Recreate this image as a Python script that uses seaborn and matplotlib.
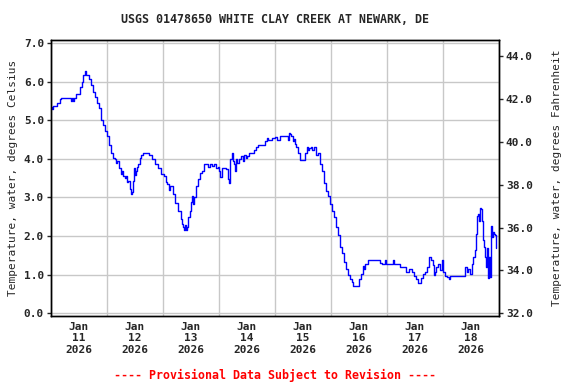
import pandas as pd
import matplotlib
matplotlib.use("Agg")
import matplotlib.pyplot as plt
import matplotlib.dates as mdates
import seaborn as sns

# hours since 2026-01-11 00:00 and water temperature (deg C)
hours = [
    0.0, 0.4, 0.9, 1.7, 2.6, 3.9, 4.3, 8.1, 8.6, 9.0, 9.4, 9.9, 10.7, 12.0,
    12.4, 13.3, 13.7, 14.1, 14.6, 15.0, 15.9, 16.3, 17.1, 18.0, 18.9, 19.7,
    20.6, 21.4, 22.3, 23.1, 24.0, 24.9, 25.7, 26.6, 27.4, 27.9, 28.3, 29.1,
    30.0, 30.4, 30.9, 31.7, 32.1, 32.6, 33.0, 33.9, 34.3, 34.7, 35.1, 35.6,
    36.0, 36.4, 36.9, 37.3, 38.1, 38.6, 39.4, 41.6, 42.0, 43.3, 44.6, 45.9,
    47.1, 48.4, 49.3, 49.7, 50.6, 51.0, 52.3, 53.1, 54.4, 55.7, 56.1, 56.6,
    57.0, 57.4, 57.9, 58.3, 58.7, 59.6, 60.0, 60.4, 60.9, 61.3, 62.1, 63.0,
    63.9, 64.7, 65.6, 66.4, 67.3, 68.1, 69.0, 69.9, 70.7, 71.6, 72.0, 72.4,
    73.3, 75.0, 75.9, 76.3, 76.7, 77.6, 78.0, 78.4, 78.9, 79.3, 79.7, 80.6,
    81.4, 82.3, 82.7, 83.6, 84.0, 84.9, 85.7, 87.0, 87.9, 88.7, 90.9, 91.7,
    92.6, 93.0, 93.9, 94.7, 96.0, 96.9, 98.1, 101.1, 101.6, 102.0, 102.4,
    102.9, 103.7, 104.1, 104.6, 105.0, 105.9, 106.7, 108.4, 108.9, 109.7,
    110.1, 110.6, 111.4, 111.9, 112.7, 113.6, 114.4, 115.3, 116.1, 117.0,
    117.9, 118.7, 119.6, 120.4, 121.3, 122.1, 123.0, 123.9, 124.7, 125.6,
    126.4, 127.3, 128.1, 129.0, 129.4, 131.6, 132.0, 132.9, 133.7, 134.1,
    134.6, 135.9, 136.7, 140.6, 141.0, 141.9, 143.1, 143.6, 146.1, 146.6,
    147.0, 149.1, 149.6, 150.9, 152.1, 153.4, 154.7, 155.6, 156.4, 157.3,
    158.1, 158.6, 159.4, 160.3, 161.1, 162.0, 162.9, 163.7, 164.1, 164.6,
    165.0, 165.9, 166.7, 167.6, 168.0, 168.9, 169.7, 170.6, 171.0, 176.6,
    177.4, 178.3, 178.7, 179.6, 180.4, 180.9, 181.7, 182.1, 182.6, 183.0,
    183.4, 183.9, 184.3, 184.7, 185.1, 185.6, 186.0, 186.4, 186.9, 187.3,
    187.7, 188.1, 188.6, 189.0, 189.4, 189.9, 190.3, 190.7,
]
temp_c = [
    5.35, 5.29, 5.37, 5.37, 5.44, 5.54, 5.58, 5.58, 5.49, 5.58, 5.49, 5.58,
    5.68, 5.68, 5.86, 5.99, 6.17, 6.16, 6.27, 6.16, 6.16, 6.08, 5.91, 5.73,
    5.61, 5.44, 5.31, 5.01, 4.89, 4.71, 4.58, 4.37, 4.15, 4.03, 3.99, 3.89,
    3.94, 3.77, 3.61, 3.69, 3.56, 3.51, 3.56, 3.39, 3.43, 3.22, 3.10, 3.14,
    3.43, 3.77, 3.59, 3.68, 3.79, 3.86, 4.03, 4.09, 4.15, 4.15, 4.09, 3.99,
    3.86, 3.77, 3.60, 3.56, 3.39, 3.35, 3.19, 3.30, 3.09, 2.87, 2.66, 2.45,
    2.32, 2.23, 2.16, 2.29, 2.16, 2.24, 2.49, 2.66, 2.89, 3.04, 2.84, 3.00,
    3.30, 3.47, 3.64, 3.68, 3.86, 3.87, 3.79, 3.87, 3.82, 3.87, 3.77, 3.79,
    3.68, 3.54, 3.77, 3.73, 3.47, 3.37, 3.99, 4.15, 3.94, 3.86, 3.69, 3.99,
    3.90, 3.99, 4.07, 3.94, 4.11, 4.02, 4.07, 4.15, 4.15, 4.24, 4.32, 4.37,
    4.37, 4.47, 4.54, 4.49, 4.50, 4.54, 4.56, 4.49, 4.58, 4.58, 4.49, 4.67,
    4.64, 4.58, 4.45, 4.52, 4.39, 4.32, 4.15, 3.98, 3.98, 4.15, 4.32, 4.24,
    4.28, 4.32, 4.24, 4.32, 4.11, 4.15, 3.86, 3.68, 3.38, 3.17, 3.04, 2.83,
    2.66, 2.49, 2.23, 2.02, 1.72, 1.55, 1.33, 1.16, 0.99, 0.88, 0.80, 0.71,
    0.71, 0.88, 1.03, 1.22, 1.14, 1.27, 1.38, 1.39, 1.39, 1.31, 1.29, 1.39,
    1.29, 1.29, 1.39, 1.29, 1.29, 1.20, 1.19, 1.08, 1.14, 1.08, 0.97, 0.88,
    0.79, 0.79, 0.91, 1.03, 1.08, 1.20, 1.46, 1.38, 1.25, 0.99, 1.08, 1.20,
    1.29, 1.12, 1.38, 1.08, 0.97, 0.93, 0.89, 0.97, 0.97, 1.20, 1.08, 1.16,
    1.03, 1.29, 1.46, 1.63, 2.06, 2.53, 2.57, 2.40, 2.74, 2.70, 2.40, 1.89,
    1.72, 1.46, 1.20, 1.68, 0.91, 1.46, 0.95, 2.27, 1.97, 2.10, 2.06, 2.02,
    1.68,
]
start = "2026-01-11"
end = "2026-01-19"
title = "USGS 01478650 WHITE CLAY CREEK AT NEWARK, DE"
footer = "---- Provisional Data Subject to Revision ----"

df = pd.DataFrame({
    "time": pd.Timestamp(start) + pd.to_timedelta(hours, unit="h"),
    "temp": temp_c,
})

sns.set_style("white")
plt.rcParams["font.family"] = ["DejaVu Sans Mono"]
plt.rcParams["font.weight"] = "bold"
plt.rcParams["font.size"] = 8

fig = plt.figure(figsize=(5.76, 3.84), dpi=100)
ax = fig.add_axes([0.0885, 0.177, 0.7778, 0.72])

sns.lineplot(data=df, x="time", y="temp", ax=ax, color="#0000ff",
             linewidth=1.0, drawstyle="steps-post", estimator=None, sort=False)

ylo, yhi = -0.07, 7.09
ax.set_ylim(ylo, yhi)
ax.set_xlim(pd.Timestamp(start), pd.Timestamp(end))
ax.set_yticks([0, 1, 2, 3, 4, 5, 6, 7])
ax.yaxis.set_major_formatter(plt.FormatStrFormatter("%.1f"))

ax.xaxis.set_major_locator(mdates.HourLocator(byhour=[12]))
ax.xaxis.set_major_formatter(mdates.DateFormatter("%b\n%d\n%Y"))
ax.xaxis.set_minor_locator(mdates.DayLocator())
ax.grid(True, which="minor", axis="x", color="#c8c8c8", linewidth=1.0)
ax.grid(True, which="major", axis="y", color="#c8c8c8", linewidth=1.0)
ax.tick_params(axis="x", which="both", length=0, pad=4)
ax.tick_params(axis="y", length=3, width=1, direction="out", left=True, pad=2)

ax.set_xlabel("")
ax.set_ylabel("Temperature, water, degrees Celsius", labelpad=4)
for s in ax.spines.values():
    s.set_color("black")
    s.set_linewidth(1.0)

ax2 = ax.twinx()
ax2.set_ylim(ylo * 1.8 + 32, yhi * 1.8 + 32)
ax2.set_yticks([32, 34, 36, 38, 40, 42, 44])
ax2.yaxis.set_major_formatter(plt.FormatStrFormatter("%.1f"))
ax2.tick_params(axis="y", length=3, width=1, direction="out", right=True, pad=2)
ax2.set_ylabel("Temperature, water, degrees Fahrenheit", labelpad=14)
for s in ax2.spines.values():
    s.set_color("black")
    s.set_linewidth(1.0)

fig.text(0.477, 0.948, title, ha="center", va="center", fontsize=8.4)
fig.text(0.477, 0.023, footer, ha="center", va="center", fontsize=8.4,
         color="#ff0000")

fig.savefig("out.png", dpi=100)
